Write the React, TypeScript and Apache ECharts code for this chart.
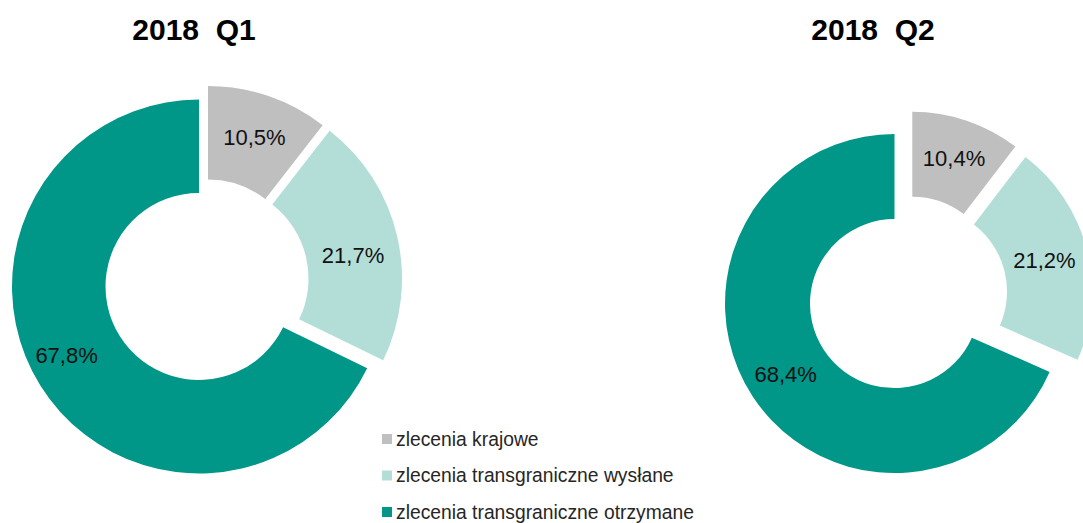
import React, { useEffect, useRef } from "react";
import * as echarts from "echarts";

const categories = [
  "zlecenia krajowe",
  "zlecenia transgraniczne wysłane",
  "zlecenia transgraniczne otrzymane",
];
const periods = ["2018  Q1", "2018  Q2"];
const valuesQ1 = [10.5, 21.7, 67.8];
const valuesQ2 = [10.4, 21.2, 68.4];
const periodValues = [valuesQ1, valuesQ2];
const colors = ["#BFBFBF", "#B3DED8", "#009688"];

const FONT = "'Liberation Sans', Arial, Helvetica, sans-serif";

// layout (styles/positions only)
const donutLayout = [
  {
    centers: [
      [208, 273],
      [215, 278.5],
      [199, 286.5],
    ],
    radius: [93.5, 187],
    titleX: 194,
    labelShift: [
      [0, 0],
      [-1.5, 9.5],
      [-11, -7.4],
    ],
  },
  {
    centers: [
      [912.3, 281.2],
      [922.5, 291.5],
      [894.5, 303.6],
    ],
    radius: [84.5, 169.5],
    titleX: 873,
    labelShift: [
      [0, 0],
      [-4, 1.5],
      [0, 0],
    ],
  },
];

function fmt(v: number) {
  return v.toFixed(1).replace(".", ",") + "%";
}

export default function App() {
  const ref = useRef<HTMLDivElement>(null);
  useEffect(() => {
    if (!ref.current) return;
    const chart = echarts.init(ref.current, undefined, { renderer: "svg" });
    const series: any[] = [];
    periodValues.forEach((vals, d) => {
      const lay = donutLayout[d];
      categories.forEach((_, k) => {
        series.push({
          type: "pie",
          silent: true,
          center: lay.centers[k],
          radius: lay.radius,
          startAngle: 90,
          clockwise: true,
          avoidLabelOverlap: false,
          emphasis: { disabled: true },
          labelLine: { show: false },
          labelLayout: { dx: lay.labelShift[k][0], dy: lay.labelShift[k][1] },
          label: {
            position: "inside",
            formatter: (p: any) => fmt(p.value),
            fontSize: 22,
            fontFamily: FONT,
            color: "#111111",
          },
          data: vals.map((v, i) =>
            i === k
              ? {
                  name: categories[i],
                  value: v,
                  itemStyle: { color: colors[i] },
                  label: { show: true },
                }
              : {
                  name: `_f${d}_${k}_${i}`,
                  value: v,
                  itemStyle: { color: "rgba(0,0,0,0)" },
                  label: { show: false },
                }
          ),
        });
      });
    });

    chart.setOption({
      animation: false,
      backgroundColor: "#ffffff",
      legend: {
        data: categories.map((c, i) => ({ name: c, itemStyle: { color: colors[i] } })),
        orient: "vertical",
        left: 382,
        top: 429,
        padding: 0,
        icon: "rect",
        itemWidth: 10,
        itemHeight: 10,
        itemGap: 16.5,
        selectedMode: false,
        textStyle: {
          fontSize: 19.3,
          lineHeight: 20,
          fontFamily: FONT,
          color: "#262626",
          padding: [0, 0, 0, -1],
        },
      },
      graphic: periods.map((t, d) => ({
        type: "text",
        x: donutLayout[d].titleX,
        y: 29,
        style: {
          text: t,
          fontSize: 30,
          fontWeight: "bold",
          fontFamily: FONT,
          fill: "#000000",
          align: "center",
          verticalAlign: "middle",
        },
      })),
      series,
    });
    return () => chart.dispose();
  }, []);
  return (
    <div
      ref={ref}
      style={{ position: "fixed", left: 0, top: 0, width: 1083, height: 523, background: "#fff" }}
    />
  );
}
